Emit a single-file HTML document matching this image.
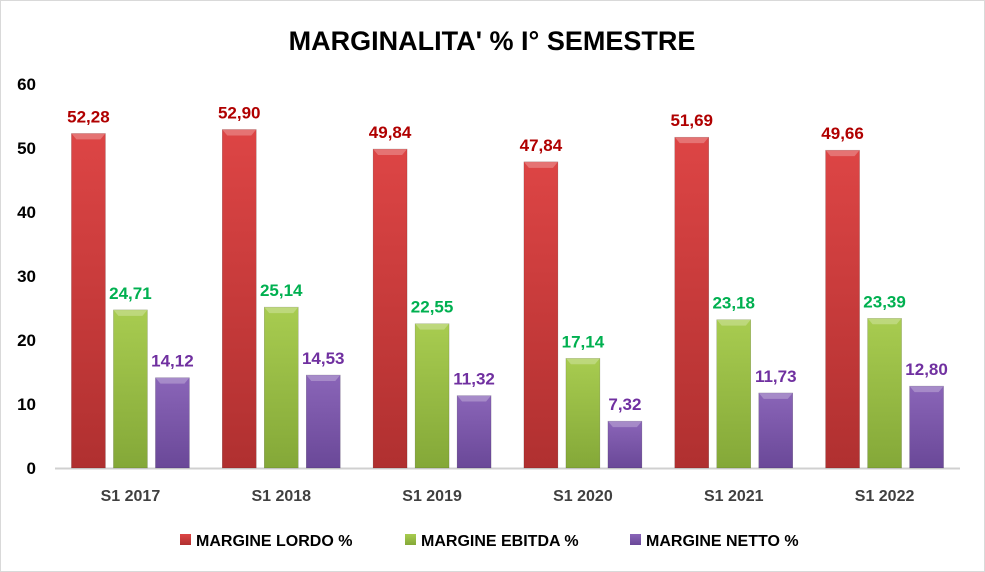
<!DOCTYPE html>
<html><head><meta charset="utf-8"><style>
body{margin:0;background:#fff;}
svg{display:block;font-family:"Liberation Sans",Arial,sans-serif;}
</style></head><body>
<svg id="chart" width="985" height="572">
<defs>
<linearGradient id="gr" x1="0" x2="0" y1="0" y2="1"><stop offset="0" stop-color="#dd4545"/><stop offset="1" stop-color="#b03030"/></linearGradient>
<linearGradient id="gg" x1="0" x2="0" y1="0" y2="1"><stop offset="0" stop-color="#a8cc50"/><stop offset="1" stop-color="#84a838"/></linearGradient>
<linearGradient id="gp" x1="0" x2="0" y1="0" y2="1"><stop offset="0" stop-color="#8a65b8"/><stop offset="1" stop-color="#6a4898"/></linearGradient>
</defs>
<rect x="0.5" y="0.5" width="984" height="571" fill="#fff" stroke="#d9d9d9"/>
<text x="492" y="50" text-anchor="middle" font-size="27" font-weight="bold" fill="#000">MARGINALITA' % I° SEMESTRE</text>
<g id="yaxis"></g><g id="bars"></g><g id="xaxis"></g>
<g id="legend"></g>
</svg>
<script>
const categories=["S1 2017","S1 2018","S1 2019","S1 2020","S1 2021","S1 2022"];
const lordo=[52.28,52.90,49.84,47.84,51.69,49.66];
const ebitda=[24.71,25.14,22.55,17.14,23.18,23.39];
const netto=[14.12,14.53,11.32,7.32,11.73,12.80];
const yTicks=[0,10,20,30,40,50,60];
const seriesNames=["MARGINE LORDO %","MARGINE EBITDA %","MARGINE NETTO %"];
const NS="http://www.w3.org/2000/svg";
const x0=55,x1=960,y0=468,yTop=84,yMax=60;
const y=v=>y0-(v/yMax)*(y0-yTop);
const cw=(x1-x0)/categories.length;
const xc=i=>x0+cw*(i+0.5);
function mk(t,a,p){const e=document.createElementNS(NS,t);for(const k in a)e.setAttribute(k,a[k]);p.appendChild(e);return e;}
const ya=document.getElementById('yaxis');
yTicks.forEach(t=>{const e=mk('text',{x:36,y:y(t)+6,'text-anchor':'end','font-size':17,'font-weight':'bold',fill:'#000'},ya);e.textContent=t;

});
const bl=mk('line',{x1:x0,x2:x1,y1:y0+0.5,y2:y0+0.5,stroke:'#d0d0d0','stroke-width':2},ya);


const series=[lordo,ebitda,netto],fills=['url(#gr)','url(#gg)','url(#gp)'],lab=['#b00000','#00b050','#7030a0'],keys=['lordo','ebitda','netto'];
const bw=34,gap=8;
const bg=document.getElementById('bars'),xa=document.getElementById('xaxis');
categories.forEach((c,i)=>{
  const start=xc(i)-(3*bw+2*gap)/2;
  series.forEach((s,j)=>{
    const bx=start+j*(bw+gap),top=y(s[i]);
    const r=mk('rect',{x:bx,y:top,width:bw,height:y0-top,fill:fills[j],stroke:'rgba(0,0,0,0.25)','stroke-width':0.5},bg);
    
    
    mk('polygon',{points:`${bx},${top} ${bx+bw},${top} ${bx+bw-5},${top+6} ${bx+5},${top+6}`,fill:'rgba(255,255,255,0.25)'},bg);
    const t=mk('text',{x:bx+bw/2,y:top-11,'text-anchor':'middle','font-size':17,'font-weight':'bold',fill:lab[j]},bg);
    t.textContent=s[i].toFixed(2).replace('.',',');
    
    
  });
  const t=mk('text',{x:xc(i),y:501,'text-anchor':'middle','font-size':16,'font-weight':'bold',fill:'#404040'},xa);
  t.textContent=c;
  
  
});
const lg=document.getElementById('legend');
const lx=[180,405,630];
seriesNames.forEach((n,j)=>{
  const g=mk('g',{},lg);
  
  
  mk('rect',{x:lx[j],y:534,width:11,height:11,fill:fills[j]},g);
  const t=mk('text',{x:lx[j]+16,y:546,'font-size':16,'font-weight':'bold',fill:'#000'},g);
  t.textContent=n;
});
</script>
</body></html>
